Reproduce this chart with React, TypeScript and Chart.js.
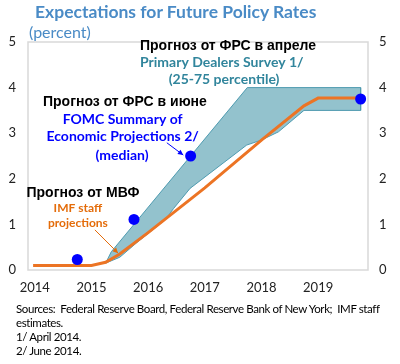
import React, { useEffect, useRef } from "react";
import { Chart, registerables } from "chart.js";

Chart.register(...registerables);

// ---- data ----
const yearTicks = [2014, 2015, 2016, 2017, 2018, 2019];

const imfYears = [2013.97, 2015.0, 2015.25, 2015.5, 2016.0, 2017.0, 2018.0, 2018.75, 2019.0, 2019.75];
const imfRates = [0.1, 0.1, 0.17, 0.35, 0.82, 1.8, 2.85, 3.6, 3.77, 3.77];

const dealersUpperYears = [2015.25, 2015.35, 2017.75, 2019.75];
const dealersUpper = [0.15, 0.4, 4.0, 4.0];
const dealersLowerYears = [2015.25, 2015.5, 2015.8, 2016.3, 2016.45, 2016.74, 2017.74, 2018.0, 2018.3, 2018.75, 2019.75];
const dealersLower = [0.15, 0.28, 0.6, 1.1, 1.35, 1.79, 2.74, 2.85, 3.03, 3.5, 3.5];

const fomcYears = [2014.75, 2015.75, 2016.75, 2019.75];
const fomcMedian = [0.23, 1.11, 2.5, 3.75];

// ---- annotation layout (data coordinates) ----
const BOLD_ARIAL = "bold 14px 'Liberation Sans', Arial, sans-serif";
const BOLD_CAL = "bold 14px Lato, 'Open Sans', sans-serif";
const notes = [
  { text: "Прогноз от ФРС в апреле", x: 2017.41, y: 4.91, color: "#000000", font: BOLD_ARIAL },
  { text: "Primary Dealers Survey 1/", x: 2017.3, y: 4.56, color: "#31859c", font: BOLD_CAL },
  { text: "(25-75 percentile)", x: 2017.34, y: 4.17, color: "#31859c", font: BOLD_CAL },
  { text: "Прогноз от ФРС в июне", x: 2015.59, y: 3.68, color: "#000000", font: BOLD_ARIAL },
  { text: "FOMC Summary of", x: 2015.55, y: 3.31, color: "#0000ff", font: BOLD_CAL },
  { text: "Economic Projections 2/", x: 2015.55, y: 2.92, color: "#0000ff", font: BOLD_CAL },
  { text: "(median)", x: 2015.54, y: 2.52, color: "#0000ff", font: BOLD_CAL },
  { text: "Прогноз от МВФ", x: 2014.85, y: 1.69, color: "#000000", font: BOLD_ARIAL },
  { text: "IMF staff", x: 2014.76, y: 1.36, color: "#e46c0a", font: "bold 12px Lato, sans-serif" },
  { text: "projections", x: 2014.76, y: 1.03, color: "#e46c0a", font: "bold 12px Lato, sans-serif" },
];
const arrows = [
  { x0: 2016.33, y0: 2.79, x1: 2016.62, y1: 2.52, color: "#0000ff" },
  { x0: 2015.06, y0: 0.88, x1: 2015.47, y1: 0.37, color: "#e46c0a" },
];

const frame = {
  id: "frame",
  beforeDraw(chart: any) {
    const { ctx, chartArea: a } = chart;
    ctx.save();
    ctx.strokeStyle = "#d9d9d9";
    ctx.lineWidth = 1.5;
    ctx.strokeRect(a.left, a.top, a.right - a.left, a.bottom - a.top);
    ctx.restore();
  },
};

const annot = {
  id: "annot",
  afterDatasetsDraw(chart: any) {
    const { ctx } = chart;
    const xs = chart.scales.x;
    const ys = chart.scales.y;
    ctx.save();
    ctx.textAlign = "center";
    ctx.textBaseline = "middle";
    for (const n of notes) {
      ctx.font = n.font;
      ctx.fillStyle = n.color;
      ctx.fillText(n.text, xs.getPixelForValue(n.x), ys.getPixelForValue(n.y));
    }
    for (const a of arrows) {
      const px0 = xs.getPixelForValue(a.x0);
      const py0 = ys.getPixelForValue(a.y0);
      const px1 = xs.getPixelForValue(a.x1);
      const py1 = ys.getPixelForValue(a.y1);
      ctx.strokeStyle = a.color;
      ctx.fillStyle = a.color;
      ctx.lineWidth = 1;
      ctx.beginPath();
      ctx.moveTo(px0, py0);
      ctx.lineTo(px1, py1);
      ctx.stroke();
      const ang = Math.atan2(py1 - py0, px1 - px0);
      const L = 6;
      ctx.beginPath();
      ctx.moveTo(px1, py1);
      ctx.lineTo(px1 - L * Math.cos(ang - 0.45), py1 - L * Math.sin(ang - 0.45));
      ctx.lineTo(px1 - L * Math.cos(ang + 0.45), py1 - L * Math.sin(ang + 0.45));
      ctx.closePath();
      ctx.fill();
    }
    ctx.restore();
  },
};

export default function App() {
  const ref = useRef<HTMLCanvasElement>(null);
  useEffect(() => {
    if (!ref.current) return;
    const band = [
      ...dealersUpperYears.map((x, i) => ({ x, y: dealersUpper[i] })),
      ...dealersLowerYears.map((x, i) => ({ x, y: dealersLower[i] })).reverse(),
    ];
    const tickFont = { family: "Lato, 'Open Sans', sans-serif", size: 13 };
    const chart = new Chart(ref.current, {
      type: "line",
      data: {
        datasets: [
          {
            label: "FOMC median",
            data: fomcYears.map((x, i) => ({ x, y: fomcMedian[i] })),
            showLine: false,
            pointRadius: 5.5,
            pointBackgroundColor: "#0000ff",
            pointBorderColor: "#0000ff",
            borderWidth: 0,
          },
          {
            label: "IMF staff projections",
            data: imfYears.map((x, i) => ({ x, y: imfRates[i] })),
            borderColor: "#ec7424",
            borderWidth: 3,
            pointRadius: 0,
            tension: 0,
            fill: false,
          },
          {
            label: "Primary Dealers Survey",
            data: band,
            borderColor: "#4f9bb0",
            backgroundColor: "#93c2cd",
            borderWidth: 1,
            pointRadius: 0,
            tension: 0,
            fill: "shape",
          } as any,
        ],
      },
      options: {
        animation: false,
        responsive: false,
        devicePixelRatio: 1,
        layout: { padding: { top: 42, left: 0, right: 0, bottom: 0 } },
        plugins: { legend: { display: false }, tooltip: { enabled: false } },
        scales: {
          x: {
            type: "linear",
            min: 2013.88,
            max: 2019.88,
            grid: { display: false, drawTicks: false },
            border: { display: false },
            afterBuildTicks: (s: any) => {
              s.ticks = yearTicks.map((v) => ({ value: v }));
            },
            afterFit: (s: any) => {
              s.height = 94;
            },
            ticks: {
              callback: (v: any) => String(v),
              font: tickFont,
              color: "#222",
              padding: 10,
              maxRotation: 0,
              autoSkip: false,
            },
          },
          y: {
            position: "left",
            min: 0,
            max: 5,
            grid: { display: false, drawTicks: false },
            border: { display: false },
            afterFit: (s: any) => {
              s.width = 28;
            },
            ticks: { stepSize: 1, font: tickFont, color: "#222", padding: 12 },
          },
          y1: {
            position: "right",
            min: 0,
            max: 5,
            grid: { display: false, drawTicks: false },
            border: { display: false },
            afterFit: (s: any) => {
              s.width = 32;
            },
            ticks: { stepSize: 1, font: tickFont, color: "#222", padding: 11 },
          },
        },
      } as any,
      plugins: [frame, annot],
    });
    return () => chart.destroy();
  }, []);

  return (
    <div
      style={{
        position: "fixed",
        left: 0,
        top: 0,
        width: 400,
        height: 364,
        background: "#fff",
        fontFamily: "Lato, 'Open Sans', sans-serif",
      }}
    >
      <canvas ref={ref} width={400} height={364} style={{ position: "absolute", left: 0, top: 0 }} />
      <div
        style={{
          position: "absolute",
          left: 35,
          top: 2,
          lineHeight: "20px",
          fontSize: 17.5,
          fontWeight: 700,
          color: "#4a8bc6",
          whiteSpace: "nowrap",
        }}
      >
        Expectations for Future Policy Rates
      </div>
      <div
        style={{
          position: "absolute",
          left: 29,
          top: 22,
          lineHeight: "20px",
          fontSize: 16,
          color: "#4a8bc6",
        }}
      >
        (percent)
      </div>
      <div
        style={{
          position: "absolute",
          left: 16,
          top: 302,
          lineHeight: "14px",
          fontSize: 11.5,
          letterSpacing: "-0.4px",
          color: "#000",
          whiteSpace: "nowrap",
        }}
      >
        <div>Sources:&nbsp; Federal Reserve Board, Federal Reserve Bank of New York;&nbsp; IMF staff</div>
        <div>estimates.</div>
        <div>1/ April 2014.</div>
        <div>2/ June 2014.</div>
      </div>
    </div>
  );
}
